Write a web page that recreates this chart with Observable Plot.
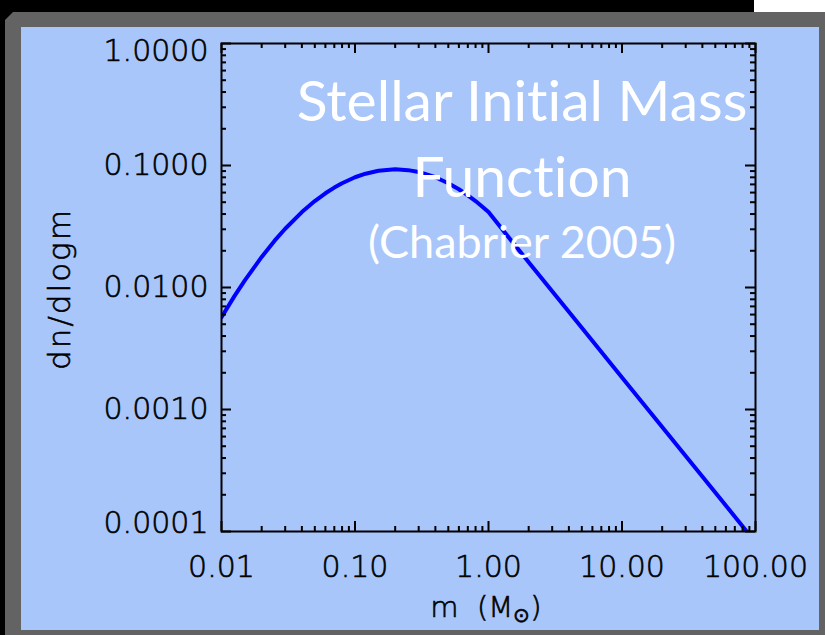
<!DOCTYPE html>
<html><head><meta charset="utf-8">
<script src="https://cdn.jsdelivr.net/npm/d3@7"></script>
<script src="https://cdn.jsdelivr.net/npm/@observablehq/plot@0.6"></script>
<style>
html,body{margin:0;padding:0;background:#000;}
#wrap{position:relative;width:825px;height:635px;overflow:hidden;background:#000;}
#white{position:absolute;left:754px;top:0;width:71px;height:12px;background:#fff;}
#gray{position:absolute;left:5px;top:12px;width:820px;height:623px;background:#636363;clip-path:polygon(8px 0,100% 0,100% 100%,0 100%,0 8px);}
#blue{position:absolute;left:21px;top:27px;width:798px;height:603px;background:#a8c6fa;}
#chart{position:absolute;left:0;top:0;}
svg text{font-variant-ligatures:none;font-feature-settings:"liga" 0,"clig" 0;}
svg g[aria-label="x-axis tick label"] text, svg g[aria-label="y-axis tick label"] text, svg text.axtitle{stroke:#000;stroke-width:0.6px;}
</style></head>
<body><div id="wrap"><div id="white"></div><div id="gray"></div><div id="blue"></div><div id="chart"></div></div>
<script>
// Data
const mass = [0.01,0.0125,0.015,0.02,0.025,0.03,0.04,0.05,0.06,0.07,0.08,0.1,0.12,0.15,0.2,0.25,0.3,0.4,0.5,0.6,0.7,0.8,0.9,1.0,2,3,5,10,20,30,50,86];
const dndlogm = [0.0057,0.0085,0.0115,0.0178,0.0242,0.0303,0.0415,0.0511,0.0592,0.0659,0.0716,0.0801,0.0857,0.0906,0.093,0.0916,0.0884,0.0801,0.0716,0.0639,0.0570,0.0511,0.0459,0.0415,0.0161,0.0093,0.00467,0.00183,0.000719,0.000416,0.000209,0.0001];
const xTicks = [0.01,0.1,1,10,100];
const xTickLabels = ["0.01","0.10","1.00","10.00","100.00"];
const yTicks = [0.0001,0.001,0.01,0.1,1];
const yTickLabels = ["0.0001","0.0010","0.0100","0.1000","1.0000"];
const titleLines = ["Stellar Initial Mass","Function"];
const subtitle = "(Chabrier 2005)";
const xLabelText = "m  (M";
const xLabelSymbol = "\u2299";
const yLabelText = "dn/dlogm";

const W = 825, H = 635, mL = 221, mT = 43, mR = 825 - 755, mB = 635 - 531;
const pw = W - mL - mR, ph = H - mT - mB;
const data = mass.map((m, i) => ({m, v: dndlogm[i]}));

const xMinor = d3.scaleLog().domain([0.01, 100]).ticks().filter(t => !xTicks.some(v => Math.abs(v - t) / v < 1e-6));
const yMinor = d3.scaleLog().domain([0.0001, 1]).ticks().filter(t => !yTicks.some(v => Math.abs(v - t) / v < 1e-6));

const MAJ = 10, MIN = 5;
const tickStyle = {stroke: "#000", strokeWidth: 2};
const yFmt = d => yTickLabels[yTicks.indexOf(d)];
const axisFont = {fontSize: 30, fontWeight: 200};

const chart = Plot.plot({
  width: W, height: H,
  marginLeft: mL, marginRight: mR, marginTop: mT, marginBottom: mB,
  style: {background: "transparent", fontFamily: "'DejaVu Sans', sans-serif", fontSize: "30px", color: "#000", overflow: "visible"},
  x: {type: "log", domain: [0.01, 100]},
  y: {type: "log", domain: [0.0001, 1]},
  marks: [
    Plot.line(data, {x: "m", y: "v", stroke: "#0000ff", strokeWidth: 4, clip: true}),
    // y ticks, left and right (inward)
    Plot.tickY(yTicks, {y: d => d, insetRight: pw - MAJ, ...tickStyle}),
    Plot.tickY(yMinor, {y: d => d, insetRight: pw - MIN, ...tickStyle}),
    Plot.tickY(yTicks, {y: d => d, insetLeft: pw - MAJ, ...tickStyle}),
    Plot.tickY(yMinor, {y: d => d, insetLeft: pw - MIN, ...tickStyle}),
    // x ticks, bottom and top (inward)
    Plot.tickX(xTicks, {x: d => d, insetTop: ph - MAJ, ...tickStyle}),
    Plot.tickX(xMinor, {x: d => d, insetTop: ph - MIN, ...tickStyle}),
    Plot.tickX(xTicks, {x: d => d, insetBottom: ph - MAJ, ...tickStyle}),
    Plot.tickX(xMinor, {x: d => d, insetBottom: ph - MIN, ...tickStyle}),
    Plot.frame({stroke: "#000", strokeWidth: 2}),
    Plot.axisX({ticks: xTicks, tickFormat: d => xTickLabels[xTicks.indexOf(d)], tickSize: 0, tickPadding: 24, label: null, ...axisFont}),
    Plot.axisY({ticks: yTicks.slice(1, -1), tickFormat: yFmt, tickSize: 0, tickPadding: 13, label: null, ...axisFont}),
    Plot.axisY({ticks: yTicks.slice(-1), tickFormat: yFmt, tickSize: 0, tickPadding: 13, label: null, dy: 8, ...axisFont}),
    Plot.axisY({ticks: yTicks.slice(0, 1), tickFormat: yFmt, tickSize: 0, tickPadding: 13, label: null, dy: -8, ...axisFont})
  ]
});

const svg = d3.select(chart);
// axis titles
svg.append("text")
  .attr("class", "axtitle")
  .attr("transform", "translate(70,289) rotate(-90)")
  .attr("text-anchor", "middle")
  .attr("font-family", "'DejaVu Sans', sans-serif")
  .attr("font-weight", 200)
  .attr("font-size", 31)
  .attr("letter-spacing", 2)
  .attr("fill", "#000")
  .text(yLabelText);
const xl = svg.append("text")
  .attr("class", "axtitle")
  .attr("x", 486).attr("y", 617)
  .attr("text-anchor", "middle")
  .attr("font-family", "'DejaVu Sans', sans-serif")
  .attr("font-weight", 200)
  .attr("font-size", 29)
  .attr("fill", "#000")
  .style("white-space", "pre");
xl.append("tspan").text(xLabelText);
xl.append("tspan").attr("font-size", 20).attr("dy", 5).text(xLabelSymbol);
xl.append("tspan").attr("dy", -5).text(")");

// white title over the plot
const g = svg.append("g")
  .attr("font-family", "Lato, 'Gill Sans', sans-serif")
  .attr("font-weight", 400)
  .attr("fill", "#fff")
  .attr("text-anchor", "middle");
g.append("text").attr("x", 522).attr("y", 121).attr("font-size", 57).text(titleLines[0]);
g.append("text").attr("x", 522).attr("y", 197).attr("font-size", 57).text(titleLines[1]);
g.append("text").attr("x", 522).attr("y", 258).attr("font-size", 45).text(subtitle);

document.getElementById("chart").appendChild(chart);
</script>
</body></html>
